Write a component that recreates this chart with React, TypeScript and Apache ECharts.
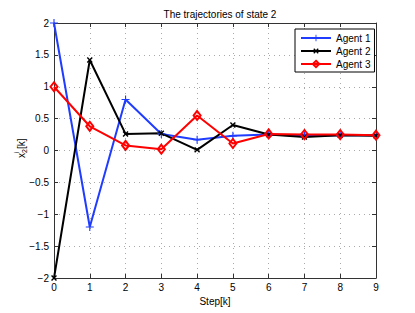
import React, { useEffect, useRef } from "react";
import * as echarts from "echarts";

const steps = [0, 1, 2, 3, 4, 5, 6, 7, 8, 9];
const agent1 = [2, -1.2, 0.8, 0.26, 0.17, 0.23, 0.25, 0.23, 0.24, 0.24];
const agent2 = [-2, 1.42, 0.26, 0.27, 0.01, 0.4, 0.25, 0.21, 0.24, 0.23];
const agent3 = [1, 0.38, 0.08, 0.02, 0.55, 0.11, 0.26, 0.25, 0.25, 0.24];
const seriesNames = ["Agent 1", "Agent 2", "Agent 3"];
const titleText = "The trajectories of state 2";
const xName = "Step[k]";

const FONT = "'Liberation Sans', Arial, Helvetica, sans-serif";
const PLUS = "path://M-0.7,-5H0.7V-0.7H5V0.7H0.7V5H-0.7V0.7H-5V-0.7H-0.7Z";
const CROSS = "path://M-1,-5H1V-1H5V1H1V5H-1V1H-5V-1H-1Z";

export default function App() {
  const ref = useRef<HTMLDivElement>(null);
  useEffect(() => {
    if (!ref.current) return;
    const chart = echarts.init(ref.current, null, { renderer: "svg" });
    const toPairs = (arr: number[]) => steps.map((s, i) => [s, arr[i]]);
    const fmt = (v: number) => String(v).replace("-", "\u2212");
    const axisCommon = {
      axisLine: { show: true, onZero: false, lineStyle: { color: "#333", width: 1 } },
      axisTick: { show: true, inside: true, length: 4, lineStyle: { color: "#333" } },
    };
    const gridLine = { show: true, lineStyle: { type: [1, 4], color: "#aaa", width: 1 } };
    chart.setOption({
      animation: false,
      backgroundColor: "#fff",
      textStyle: { fontFamily: FONT },
      title: {
        text: titleText,
        left: 215,
        top: 4,
        textAlign: "center",
        textStyle: { fontSize: 10, fontWeight: "normal", color: "#000", fontFamily: FONT },
      },
      legend: {
        orient: "vertical",
        left: 295,
        top: 29,
        padding: [4, 4, 3, 5],
        itemWidth: 30,
        itemHeight: 8,
        itemGap: 3,
        borderColor: "#000",
        borderWidth: 1,
        backgroundColor: "#fff",
        textStyle: { fontSize: 10, color: "#000", fontFamily: FONT },
        data: seriesNames,
      },
      grid: { left: 54, right: 39, top: 23, bottom: 35, containLabel: false, outerBoundsMode: "none" },
      xAxis: [
        {
          type: "value",
          min: 0,
          max: 9,
          interval: 1,
          position: "bottom",
          name: xName,
          nameLocation: "middle",
          nameGap: 15,
          nameTextStyle: { fontSize: 10, color: "#000", fontFamily: FONT },
          ...axisCommon,
          axisLabel: { margin: 4, fontSize: 10, color: "#000", fontFamily: FONT, formatter: fmt },
          splitLine: gridLine,
        },
        {
          type: "value",
          min: 0,
          max: 9,
          interval: 1,
          position: "top",
          ...axisCommon,
          axisLabel: { show: false },
          splitLine: { show: false },
        },
      ],
      yAxis: [
        {
          type: "value",
          min: -2,
          max: 2,
          interval: 0.5,
          position: "left",
          ...axisCommon,
          axisLabel: { margin: 5, fontSize: 10, color: "#000", fontFamily: FONT, formatter: fmt },
          splitLine: gridLine,
        },
        {
          type: "value",
          min: -2,
          max: 2,
          interval: 0.5,
          position: "right",
          ...axisCommon,
          axisLabel: { show: false },
          splitLine: { show: false },
        },
      ],
      graphic: [
        {
          type: "group",
          x: 21,
          y: 147,
          rotation: Math.PI / 2,
          children: [
            { type: "text", x: -11, y: 0, style: { text: "x", font: `10px ${FONT}`, fill: "#000", textVerticalAlign: "middle" } },
            { type: "text", x: -6, y: 3, style: { text: "2", font: `7px ${FONT}`, fill: "#000", textVerticalAlign: "middle" } },
            { type: "text", x: -6, y: -5, style: { text: "i", font: `7px ${FONT}`, fill: "#000", textVerticalAlign: "middle" } },
            { type: "text", x: -2, y: 0, style: { text: "[k]", font: `10px ${FONT}`, fill: "#000", textVerticalAlign: "middle" } },
          ],
        },
      ],
      series: [
        {
          name: seriesNames[0],
          type: "line",
          data: toPairs(agent1),
          clip: false,
          symbol: PLUS,
          symbolSize: 8,
          showAllSymbol: true,
          lineStyle: { color: "#1f3cff", width: 2 },
          itemStyle: { color: "#1f3cff" },
        },
        {
          name: seriesNames[1],
          type: "line",
          data: toPairs(agent2),
          clip: false,
          symbol: CROSS,
          symbolRotate: 45,
          symbolSize: 7,
          lineStyle: { color: "#000", width: 2 },
          itemStyle: { color: "#000" },
        },
        {
          name: seriesNames[2],
          type: "line",
          data: toPairs(agent3),
          clip: false,
          symbol: "diamond",
          symbolSize: [7, 9],
          lineStyle: { color: "#ff0000", width: 2 },
          itemStyle: { color: "rgba(255,255,255,0)", borderColor: "#ff0000", borderWidth: 2 },
        },
      ],
    });
    return () => chart.dispose();
  }, []);
  return (
    <div
      ref={ref}
      style={{ position: "fixed", left: 0, top: 0, width: 415, height: 313, background: "#fff" }}
    />
  );
}
